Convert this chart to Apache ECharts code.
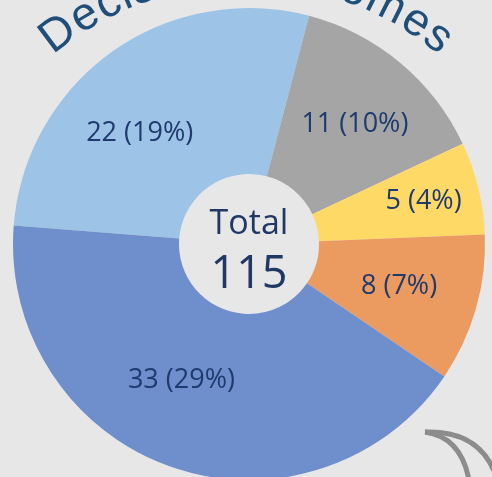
<!DOCTYPE html>
<html>
<head>
<meta charset="utf-8">
<style>
  html, body { margin: 0; padding: 0; background: #e7e7e7; }
  #chart { width: 492px; height: 477px; }
</style>
<script src="https://cdn.jsdelivr.net/npm/echarts@6/dist/echarts.min.js"></script>
</head>
<body>
<div id="chart"></div>
<script>
// Decision outcomes donut (cropped view)
const categories = ["Light blue", "Grey", "Yellow", "Orange", "Blue"];
const values = [22, 11, 5, 8, 33];
const colors = ["#9dc3e6", "#a5a5a5", "#ffd966", "#eb9a60", "#6f8fcc"];
const grandTotal = 115;
const titleText = "Decision Outcomes";

(function() {
  const cx = 249, cy = 244;
  // small nudges so labels sit where the original placed them
  const labelNudge = [[-19, 17], [6, 0], [23, -6], [0, 0], [-16, -11]];

  // curved title, one glyph per graphic element along an arc
  const titleFont = "46px 'Liberation Sans', Arial, sans-serif";
  const ctx = document.createElement("canvas").getContext("2d");
  ctx.font = titleFont;
  const spacing = 1;
  const arcX = 246, arcY = 285;
  const baseR = 297;   // baseline radius
  const midR = 313;    // glyph middle radius
  const widths = titleText.split("").map((ch) => ctx.measureText(ch).width + spacing);
  const totalW = widths.reduce((a, b) => a + b, 0) - spacing;
  let pos = -totalW / 2;
  const titleGlyphs = titleText.split("").map((ch, i) => {
    const mid = pos + (widths[i] - spacing) / 2;
    pos += widths[i];
    const ang = Math.PI / 2 - mid / baseR;
    return {
      type: "text",
      z: 0,
      x: arcX + midR * Math.cos(ang),
      y: arcY - midR * Math.sin(ang),
      rotation: ang - Math.PI / 2,
      style: {
        text: ch,
        font: titleFont,
        fill: "#1f4e79",
        align: "center",
        verticalAlign: "middle"
      }
    };
  });

  const option = {
    backgroundColor: "#e7e7e7",
    animation: false,
    graphic: titleGlyphs.concat([
      {
        type: "text",
        z: 10,
        x: cx,
        y: cy - 20,
        style: {
          text: "Total",
          font: "34px 'Open Sans', sans-serif",
          fill: "#1f3864",
          align: "center",
          verticalAlign: "middle"
        }
      },
      {
        type: "text",
        z: 10,
        x: cx,
        y: cy + 31,
        style: {
          text: String(grandTotal),
          font: "45px 'Open Sans', sans-serif",
          fill: "#1f3864",
          align: "center",
          verticalAlign: "middle"
        }
      },
      {
        type: "bezierCurve",
        z: 10,
        shape: { x1: 425, y1: 432, cpx1: 461, cpy1: 437, x2: 469, y2: 480 },
        style: { fill: null, stroke: "#8c8c8c", lineWidth: 5 }
      },
      {
        type: "bezierCurve",
        z: 10,
        shape: { x1: 425, y1: 432, cpx1: 480, cpy1: 430, x2: 496, y2: 476 },
        style: { fill: null, stroke: "#8c8c8c", lineWidth: 5 }
      }
    ]),
    series: [
      {
        type: "pie",
        z: 2,
        center: [cx, cy],
        radius: [70, 236],
        startAngle: 175.5,
        clockwise: true,
        silent: true,
        label: {
          show: true,
          position: "inside",
          fontFamily: "'Open Sans', sans-serif",
          fontSize: 27,
          color: "#1f3a6e",
          formatter: (p) => `${p.value} (${Math.round(p.value / grandTotal * 100)}%)`
        },
        labelLine: { show: false },
        itemStyle: { borderWidth: 0 },
        data: categories.map((name, i) => ({
          name: name,
          value: values[i],
          itemStyle: { color: colors[i] },
          label: { offset: labelNudge[i] }
        }))
      }
    ]
  };

  const chart = echarts.init(document.getElementById("chart"));
  chart.setOption(option);
  window.addEventListener("resize", () => chart.resize());
})();
</script>
</body>
</html>
